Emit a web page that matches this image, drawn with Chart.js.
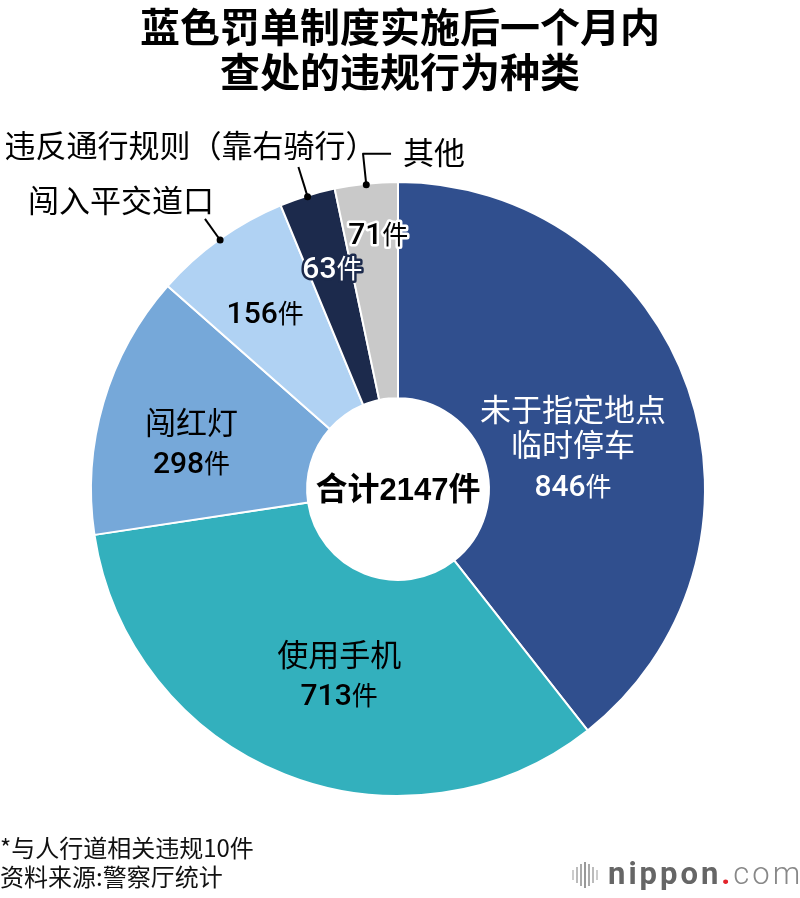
<!DOCTYPE html>
<html>
<head>
<meta charset="utf-8">
<script src="https://cdn.jsdelivr.net/npm/chart.js@4/dist/chart.umd.min.js"></script>
<style>
  body { margin: 0; background: #fff; }
  #wrap { position: relative; width: 800px; height: 898px; overflow: hidden; font-family: "Noto Sans CJK SC", sans-serif; }
  #chart { position: absolute; left: 0; top: 0; }
  .title { position: absolute; left: 0; top: 3px; width: 800px; text-align: center; font-size: 40px; font-weight: 700; line-height: 45px; color: #000; }
  .note { position: absolute; left: 0; top: 832px; font-size: 24px; line-height: 29px; color: #111; }
  .logo { position: absolute; left: 608px; top: 858px; font-family: Roboto, sans-serif; font-size: 31px; line-height: 31px; letter-spacing: 3px; white-space: nowrap; }
  .logo .n { font-weight: 700; color: #666; }
  .logo .d { font-weight: 700; color: #e3232b; }
  .logo .c { font-weight: 300; color: #888; }
  .bars { position: absolute; left: 572px; top: 862px; height: 26px; display: flex; align-items: center; gap: 2px; }
  .bars span { display: block; width: 2px; background: #aaa; }
</style>
</head>
<body>
<div id="wrap">
  <canvas id="chart" width="800" height="898"></canvas>
  <div class="title">蓝色罚单制度实施后一个月内<br>查处的违规行为种类</div>
  <div class="note">*与人行道相关违规10件<br>资料来源:警察厅统计</div>
  <div class="bars"><span style="height:10px;background:#ccc"></span><span style="height:16px;background:#bbb"></span><span style="height:22px;background:#aaa"></span><span style="height:26px;background:#999"></span><span style="height:22px;background:#aaa"></span><span style="height:16px;background:#bbb"></span><span style="height:10px;background:#ccc"></span></div>
  <div class="logo"><span class="n">nippon</span><span class="d">.</span><span class="c">com</span></div>
</div>
<script>
// data
const categories = ["未于指定地点\n临时停车", "使用手机", "闯红灯", "闯入平交道口", "违反通行规则（靠右骑行）", "其他"];
const counts = [846, 713, 298, 156, 63, 71];
const unit = "件";
const totalPrefix = "合计";
const total = 2147;

const sliceColors = ["#304F8E", "#33B0BD", "#76A8D9", "#B0D2F3", "#1C2A4C", "#C9C9C9"];

// label placement per slice: f = fraction of outer radius along the mid angle
const labelPos = [
  { f: 0.586, dx: 5, dy: 17, fill: "#fff", stroke: null, inside: true },
  { f: 0.635, dx: 13, dy: 4, fill: "#000", stroke: null, inside: true },
  { f: 0.684, dx: -5, dy: 12, fill: "#000", stroke: null, inside: true },
  { f: 0.733, dx: -2, dy: 6, fill: "#000", stroke: "#B0D2F3", inside: false },
  { f: 0.756, dx: 3, dy: 0, fill: "#fff", stroke: "#1C2A4C", inside: false },
  { f: 0.84, dx: 7, dy: 0, fill: "#000", stroke: "#fff", inside: false },
];
// leader lines for names placed outside the ring
const leaders = [null, null, null,
  { len: 26, h: 0, align: "right", tx: 9, ty: -19 },
  { len: 31, h: 0, align: "left", tx: -294, ty: -22 },
  { len: 31, h: 28, align: "left", tx: 12, ty: -2 },
];

const CJK = '"Noto Sans CJK SC"';

function drawRuns(ctx, runs, cx, baseY, fill, stroke) {
  let w = 0;
  runs.forEach((r) => { ctx.font = r.font; r.w = ctx.measureText(r.text).width; w += r.w; });
  let x = cx - w / 2;
  ctx.textAlign = "left";
  ctx.textBaseline = "alphabetic";
  runs.forEach((r) => {
    ctx.font = r.font;
    if (stroke) {
      ctx.lineWidth = 5;
      ctx.lineJoin = "round";
      ctx.strokeStyle = stroke;
      ctx.strokeText(r.text, x, baseY);
    }
    ctx.fillStyle = fill;
    ctx.fillText(r.text, x, baseY);
    x += r.w;
  });
}

const labelPlugin = {
  id: "sliceLabels",
  afterDatasetsDraw(chart) {
    const ctx = chart.ctx;
    const arcs = chart.getDatasetMeta(0).data;
    ctx.save();
    arcs.forEach((arc, i) => {
      const p = arc.getProps(["x", "y", "startAngle", "endAngle", "outerRadius"], true);
      const mid = (p.startAngle + p.endAngle) / 2;
      const pos = labelPos[i];
      const r = p.outerRadius * pos.f;
      const bx = p.x + r * Math.cos(mid) + pos.dx;
      const by = p.y + r * Math.sin(mid) + pos.dy;
      const countRuns = [
        { text: String(counts[i]), font: "500 30px Roboto" },
        { text: unit, font: "26px " + CJK },
      ];
      if (pos.inside) {
        const names = categories[i].split("\n");
        const span = (names.length - 1) * 35 + 40;
        let y = by - span / 2;
        ctx.font = "31px " + CJK;
        ctx.textAlign = "center";
        ctx.textBaseline = "middle";
        ctx.fillStyle = pos.fill;
        names.forEach((t, k) => {
          ctx.fillText(t, bx, y + k * 35);
        });
        const cy = y + (names.length - 1) * 35 + 40;
        drawRuns(ctx, countRuns, bx, cy + 11, pos.fill, pos.stroke);
      } else {
        drawRuns(ctx, countRuns, bx, by + 11, pos.fill, pos.stroke);
        const L = leaders[i];
        const dotR = p.outerRadius - 1;
        const x0 = p.x + dotR * Math.cos(mid);
        const y0 = p.y + dotR * Math.sin(mid);
        const x1 = p.x + (dotR + L.len) * Math.cos(mid);
        const y1 = p.y + (dotR + L.len) * Math.sin(mid);
        ctx.strokeStyle = "#000";
        ctx.lineWidth = 2;
        ctx.beginPath();
        ctx.moveTo(x0, y0);
        ctx.lineTo(x1, y1);
        if (L.h) ctx.lineTo(x1 + L.h, y1);
        ctx.stroke();
        ctx.fillStyle = "#000";
        ctx.beginPath();
        ctx.arc(x0, y0, 3.5, 0, Math.PI * 2);
        ctx.fill();
        const ex = x1 + L.h;
        ctx.font = "31px " + CJK;
        ctx.textAlign = L.align;
        ctx.textBaseline = "middle";
        ctx.fillText(categories[i], ex + L.tx, y1 + L.ty);
      }
    });
    // total in the hole
    const c = arcs[0];
    drawRuns(ctx, [
      { text: totalPrefix, font: "700 32px " + CJK },
      { text: String(total), font: "700 31px \"Liberation Sans\"" },
      { text: unit, font: "700 32px " + CJK },
    ], c.x, c.y + 11, "#000", null);
    ctx.restore();
  },
};

new Chart(document.getElementById("chart"), {
  type: "doughnut",
  data: {
    labels: categories,
    datasets: [{
      data: counts,
      backgroundColor: sliceColors,
      borderColor: "#fff",
      borderWidth: 2,
      hoverOffset: 0,
    }],
  },
  options: {
    responsive: false,
    animation: false,
    events: [],
    cutout: "29.6%",
    layout: { padding: { left: 90, right: 94, top: 181, bottom: 101 } },
    plugins: { legend: { display: false }, tooltip: { enabled: false } },
  },
  plugins: [labelPlugin],
});
</script>
</body>
</html>
